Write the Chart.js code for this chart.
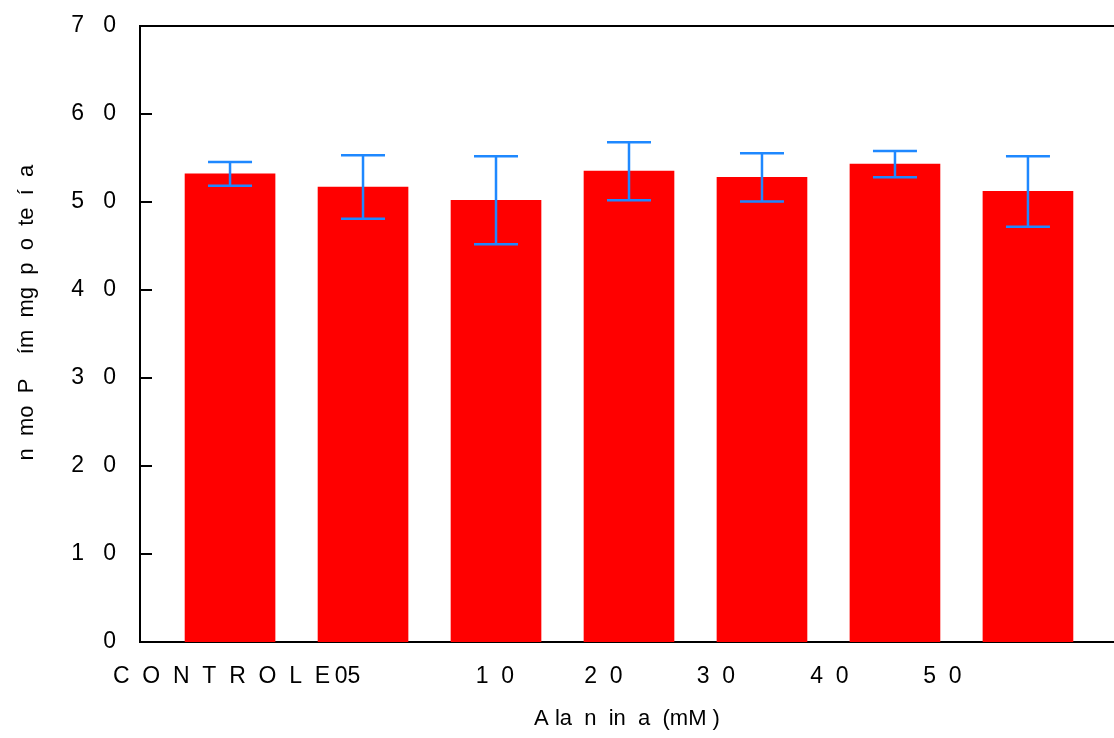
<!DOCTYPE html>
<html>
<head>
<meta charset="utf-8">
<script src="https://cdn.jsdelivr.net/npm/chart.js@4.4.1/dist/chart.umd.min.js"></script>
<style>
  html, body { margin: 0; padding: 0; background: #fff; }
  canvas { display: block; }
</style>
</head>
<body>
<canvas id="alaninaChart" width="1114" height="738"></canvas>
<script>
// Bars, in order
const categories = ['CONTROLE', '05', '10', '20', '30', '40', '50'];
// labels as they are printed under the axis (spaced out like the original)
const xTickLabels = ['C  O  N  T  R  O  L  E', '05', '1  0', '2  0', '3  0', '4  0', '5  0'];
// where those labels sit, in bar units (they drift left of the bars in the original)
const xLabelAnchors = [-0.064, 0.883, 1.992, 2.808, 3.654, 4.507, 5.357];

// nmol Pi / min / mg proteina: mean and +/- error
const means = [53.2, 51.7, 50.2, 53.5, 52.8, 54.3, 51.2];
const errors = [1.35, 3.6, 5.0, 3.3, 2.75, 1.5, 4.0];

const yTicks = [0, 10, 20, 30, 40, 50, 60, 70];
const yTickLabels = ['0', '1   0', '2   0', '3   0', '4   0', '5   0', '6   0', '7   0'];

// leading blanks push the (garbled) title up the axis a bit, as in the original
const yTitle = '       n  mo  P    ím  mg  p  o  te  í  a';
const xTitle = 'A la  n  in  a  (mM )';

Chart.defaults.font.family = '"Liberation Sans", Arial, sans-serif';
Chart.defaults.color = '#000';

// top frame line, inward y ticks and the error bars
const frameAndErrorBars = {
    id: 'frameAndErrorBars',
    afterDatasetsDraw(chart) {
        const { ctx, chartArea: area, scales: { x, y } } = chart;
        ctx.save();
        ctx.strokeStyle = '#000';
        ctx.lineWidth = 2;
        ctx.beginPath();
        ctx.moveTo(area.left, area.top);
        ctx.lineTo(area.right, area.top);
        yTicks.slice(1, -1).forEach(v => {
            const py = y.getPixelForValue(v);
            ctx.moveTo(area.left, py);
            ctx.lineTo(area.left + 12, py);
        });
        ctx.stroke();

        ctx.strokeStyle = '#1e88ff';
        ctx.lineWidth = 2.5;
        means.forEach((m, i) => {
            const px = x.getPixelForValue(i);
            const hi = y.getPixelForValue(m + errors[i]);
            const lo = y.getPixelForValue(m - errors[i]);
            ctx.beginPath();
            ctx.moveTo(px, hi);
            ctx.lineTo(px, lo);
            ctx.moveTo(px - 22, hi);
            ctx.lineTo(px + 22, hi);
            ctx.moveTo(px - 22, lo);
            ctx.lineTo(px + 22, lo);
            ctx.stroke();
        });
        ctx.restore();
    }
};

const ctx = document.getElementById('alaninaChart');
new Chart(ctx, {
    type: 'bar',
    data: {
        labels: categories,
        datasets: [{
            label: 'Alanina',
            data: means.map((v, i) => ({ x: i, y: v })),
            backgroundColor: '#ff0000',
            borderWidth: 0,
            barThickness: 90
        }]
    },
    options: {
        responsive: false,
        animation: false,
        events: [],
        layout: { padding: { top: 26, right: 0, bottom: 0, left: 0 } },
        plugins: {
            legend: { display: false },
            tooltip: { enabled: false }
        },
        scales: {
            x: {
                type: 'linear',
                offset: false,
                min: -0.677,
                max: 6.647,
                z: 1,
                grid: { display: false, drawTicks: false },
                border: { display: true, color: '#000', width: 2 },
                afterBuildTicks: scale => {
                    scale.ticks = xLabelAnchors.map(v => ({ value: v }));
                },
                ticks: {
                    autoSkip: false,
                    maxRotation: 0,
                    padding: 21,
                    font: { size: 23 },
                    callback: (value, index) => xTickLabels[index]
                },
                title: {
                    display: true,
                    text: xTitle,
                    font: { size: 22 },
                    padding: { top: 0, bottom: 6 }
                },
                afterFit: scale => {
                    scale.height = 96;
                    scale.paddingLeft = 0;
                    scale.paddingRight = 0;
                }
            },
            y: {
                min: 0,
                max: 70,
                z: 1,
                grid: { display: false, drawTicks: false },
                border: { display: true, color: '#000', width: 2 },
                afterBuildTicks: scale => {
                    scale.ticks = yTicks.map(v => ({ value: v }));
                },
                ticks: {
                    padding: 24,
                    font: { size: 23 },
                    callback: (value, index) => yTickLabels[index]
                },
                title: {
                    display: true,
                    text: yTitle,
                    font: { size: 22 },
                    padding: { top: 14, bottom: 0 }
                },
                afterFit: scale => {
                    scale.width = 140;
                    scale.paddingTop = 0;
                    scale.paddingBottom = 0;
                }
            }
        }
    },
    plugins: [frameAndErrorBars]
});
</script>
</body>
</html>
